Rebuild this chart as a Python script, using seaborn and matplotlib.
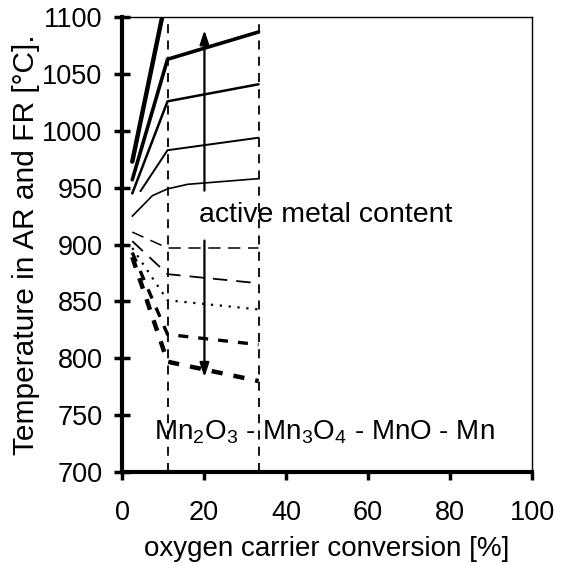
import matplotlib
matplotlib.use("Agg")
import matplotlib.pyplot as plt
import seaborn as sns
import pandas as pd

sns.set_theme(style="white")
plt.rcParams['font.family'] = ['Liberation Sans', 'DejaVu Sans']
plt.rcParams['mathtext.fontset'] = 'custom'
plt.rcParams['mathtext.rm'] = 'Liberation Sans'
plt.rcParams['text.color'] = 'black'
plt.rcParams['axes.labelcolor'] = 'black'
plt.rcParams['xtick.color'] = 'black'
plt.rcParams['ytick.color'] = 'black'

# ---- data ----
phase_bounds = [11.1, 33.3]

s1_x = [2.5, 11.1];             s1_y = [973, 1123]
s2_x = [2.5, 11.1, 33.3];       s2_y = [957, 1063, 1087]
s3_x = [2.5, 11.1, 33.3];       s3_y = [945, 1026, 1041]
s4_x = [4.5, 11.1, 33.3];       s4_y = [947, 983, 994]
s5_x = [2.5, 7.4, 11.1, 16.0, 33.3]; s5_y = [925, 943, 949, 953, 958]

d1_x = [2.5, 8.0, 11.1, 33.3];  d1_y = [911, 902, 897, 897]
d2_x = [2.5, 11.1, 33.3];       d2_y = [903, 874, 866]
d3_x = [2.5, 11.1, 33.3];       d3_y = [897, 851, 843]
d4_x = [2.5, 11.1, 33.3];       d4_y = [893, 821, 812]
d5_x = [2.5, 11.1, 33.3];       d5_y = [889, 797, 780]

x_ticks = [0, 20, 40, 60, 80, 100]
y_ticks = [700, 750, 800, 850, 900, 950, 1000, 1050, 1100]

series = [
    ("s1", s1_x, s1_y, dict(lw=3.2, ls='-')),
    ("s2", s2_x, s2_y, dict(lw=2.6, ls='-')),
    ("s3", s3_x, s3_y, dict(lw=1.8, ls='-')),
    ("s4", s4_x, s4_y, dict(lw=1.4, ls='-')),
    ("s5", s5_x, s5_y, dict(lw=1.2, ls='-')),
    ("d1", d1_x, d1_y, dict(lw=1.1, dashes=(8, 5))),
    ("d2", d2_x, d2_y, dict(lw=1.3, dashes=(8, 5))),
    ("d3", d3_x, d3_y, dict(lw=1.6, dashes=(1, 3))),
    ("d4", d4_x, d4_y, dict(lw=2.4, dashes=(3, 3))),
    ("d5", d5_x, d5_y, dict(lw=3.2, dashes=(2.5, 2.5))),
]

fig = plt.figure(figsize=(5.61, 5.65), dpi=100)
ax = fig.add_axes([0.2175, 0.1646, 0.731, 0.805])

for name, xs, ys, st in series:
    df = pd.DataFrame({"x": xs, "y": ys})
    sns.lineplot(data=df, x="x", y="y", ax=ax, color="black", sort=False,
                 estimator=None, **st)

for b in phase_bounds:
    ax.axvline(b, color="black", lw=1.3, dashes=(5, 4))

ax.annotate("", xy=(20.1, 1091), xytext=(20.1, 945),
            arrowprops=dict(arrowstyle="-|>,head_length=0.6,head_width=0.2",
                            color="black", lw=1.6, mutation_scale=14))
ax.annotate("", xy=(20.1, 781), xytext=(20.1, 906),
            arrowprops=dict(arrowstyle="-|>,head_length=0.6,head_width=0.2",
                            color="black", lw=1.6, mutation_scale=14))

ax.text(18.8, 926, "active metal content", fontsize=20.5, va="center", ha="left")
ax.text(7.8, 735, r"Mn$_2$O$_3$ - Mn$_3$O$_4$ - MnO - Mn", fontsize=20, va="center", ha="left")

ax.set_xlim(0, 100)
ax.set_ylim(700, 1100)
ax.set_xticks(x_ticks)
ax.set_yticks(y_ticks)
ax.tick_params(axis='x', labelsize=19.5, direction='out', length=6, width=2.5,
               bottom=True, pad=14)
ax.tick_params(axis='y', labelsize=19.5, direction='inout', length=12, width=2.5,
               left=True, pad=8)
ax.set_xlabel("oxygen carrier conversion [%]", fontsize=20, labelpad=7)
ax.set_ylabel("Temperature in AR and FR [°C].", fontsize=21.5, labelpad=2)

for side in ["left", "bottom"]:
    ax.spines[side].set_linewidth(3)
    ax.spines[side].set_color("black")
for side in ["top", "right"]:
    ax.spines[side].set_linewidth(1)
    ax.spines[side].set_color("black")

fig.savefig("out.png", dpi=100)
